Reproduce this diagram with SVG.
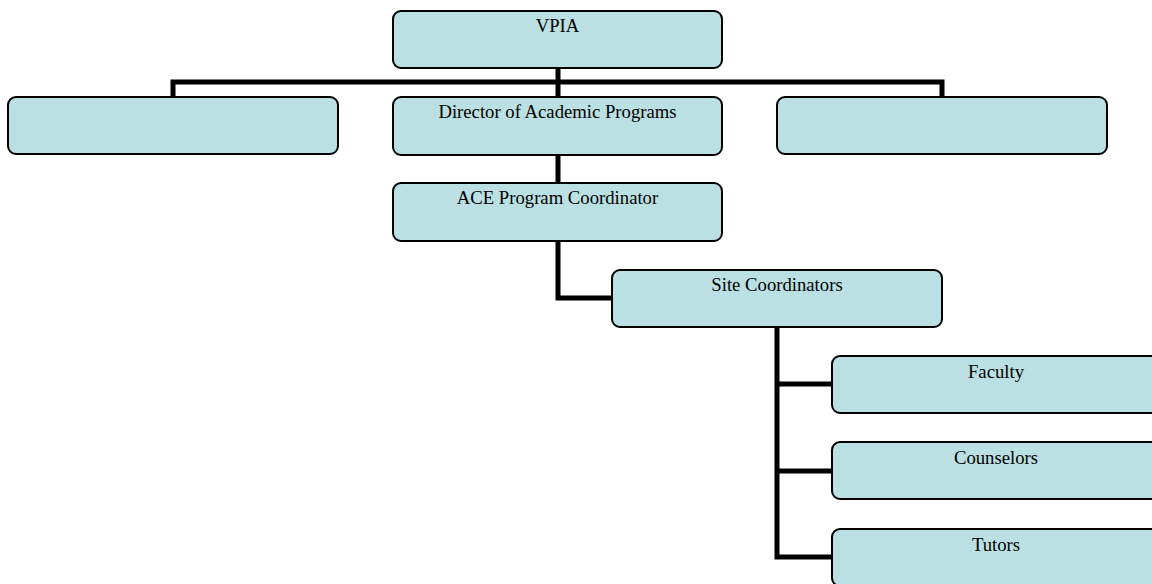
<svg xmlns="http://www.w3.org/2000/svg" width="1152" height="584" viewBox="0 0 1152 584">
<style>
.box{fill:#bae0e3;stroke:#000;stroke-width:2}
.lbl{font-family:"Liberation Serif","Times New Roman",serif;font-size:18.7px;fill:#000;text-anchor:middle}
.con{fill:none;stroke:#000;stroke-width:5;stroke-linecap:square;stroke-linejoin:miter}
</style>
<rect width="1152" height="584" fill="#fff"/>
<g id="connectors">
<path class="con" d="M558 68V82M173 97V82H942V97M558 82V97"/>
<path class="con" d="M558 155V183"/>
<path class="con" d="M558 241V298H611"/>
<path class="con" d="M777 327V557H831M777 384H831M777 471H831"/>
</g>
<g id="vpia"><rect class="box" x="393" y="11" width="329" height="57" rx="8"/><text class="lbl" x="557.5" y="32">VPIA</text></g>
<g id="left-box"><rect class="box" x="8" y="97" width="330" height="57" rx="8"/></g>
<g id="director"><rect class="box" x="393" y="97" width="329" height="58" rx="8"/><text class="lbl" x="557.5" y="118">Director of Academic Programs</text></g>
<g id="right-box"><rect class="box" x="777" y="97" width="330" height="57" rx="8"/></g>
<g id="ace"><rect class="box" x="393" y="183" width="329" height="58" rx="8"/><text class="lbl" x="557.5" y="204">ACE Program Coordinator</text></g>
<g id="site"><rect class="box" x="612" y="270" width="330" height="57" rx="8"/><text class="lbl" x="777" y="291">Site Coordinators</text></g>
<g id="faculty"><rect class="box" x="832" y="356" width="329" height="57" rx="8"/><text class="lbl" x="996" y="378">Faculty</text></g>
<g id="counselors"><rect class="box" x="832" y="442" width="329" height="57" rx="8"/><text class="lbl" x="996" y="464">Counselors</text></g>
<g id="tutors"><rect class="box" x="832" y="529" width="329" height="57" rx="8"/><text class="lbl" x="996" y="551">Tutors</text></g>
</svg>
